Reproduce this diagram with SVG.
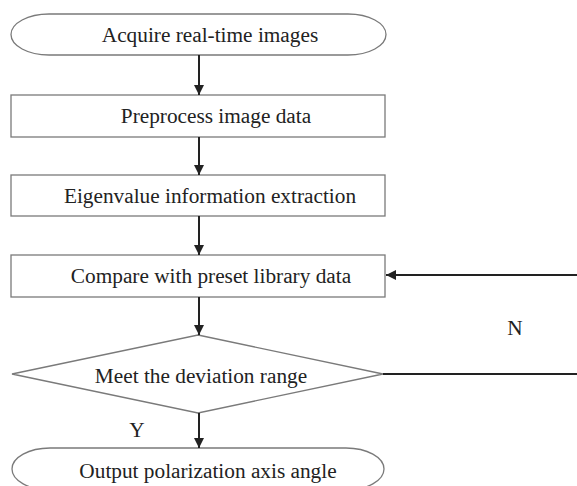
<svg xmlns="http://www.w3.org/2000/svg" width="577" height="486" viewBox="0 0 577 486">
<style>
.shape{fill:#fff;stroke:#7a7a7a;stroke-width:1.3}
.t{font-family:"Liberation Serif","Times New Roman",serif;font-size:21.3px;fill:#222;text-anchor:middle}
.c{stroke:#222;stroke-width:2;fill:none}
</style>
<defs>
<marker id="ah" viewBox="0 0 10 10" refX="10" refY="5" markerWidth="5.5" markerHeight="5" orient="auto" markerUnits="strokeWidth">
<path d="M0,0 L10,5 L0,10 z" fill="#222"/>
</marker>
</defs>
<rect width="577" height="486" fill="#fff"/>
<g id="start">
<rect class="shape" x="11" y="14" width="375" height="41" rx="38" ry="20.5"/>
<text class="t" x="210" y="42">Acquire real-time images</text>
</g>
<g id="preprocess">
<rect class="shape" x="11" y="95" width="374" height="42"/>
<text class="t" x="216" y="123">Preprocess image data</text>
</g>
<g id="extract">
<rect class="shape" x="11" y="175" width="374" height="41"/>
<text class="t" x="210" y="203">Eigenvalue information extraction</text>
</g>
<g id="compare">
<rect class="shape" x="11" y="255" width="374" height="42"/>
<text class="t" x="211" y="283">Compare with preset library data</text>
</g>
<g id="decision">
<polygon class="shape" points="198,335 383,374 198,413 12,374"/>
<text class="t" x="201" y="383">Meet the deviation range</text>
</g>
<g id="output">
<rect class="shape" x="12" y="448" width="372" height="42" rx="38" ry="21"/>
<text class="t" x="208" y="478">Output polarization axis angle</text>
</g>
<g id="connectors">
<line class="c" x1="199" y1="55" x2="199" y2="95" marker-end="url(#ah)"/>
<line class="c" x1="199" y1="137" x2="199" y2="175" marker-end="url(#ah)"/>
<line class="c" x1="199" y1="216" x2="199" y2="255" marker-end="url(#ah)"/>
<line class="c" x1="199" y1="297" x2="199" y2="335" marker-end="url(#ah)"/>
<line class="c" x1="199" y1="413" x2="199" y2="448" marker-end="url(#ah)"/>
<line class="c" x1="577" y1="275" x2="386" y2="275" stroke-width="1.6" marker-end="url(#ah)"/>
<line class="c" x1="383" y1="374" x2="577" y2="374" stroke-width="1.6"/>
<text class="t" x="515" y="335">N</text>
<text class="t" x="137" y="437">Y</text>
</g>
</svg>
